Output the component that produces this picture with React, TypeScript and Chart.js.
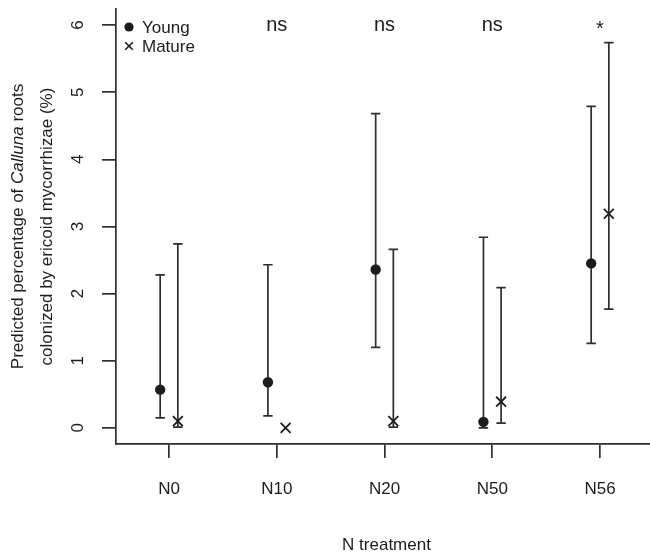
import React, { useEffect, useRef } from 'react';
import { Chart, registerables } from 'chart.js';

Chart.register(...registerables);

// ---- data ----
const categories = ['N0', 'N10', 'N20', 'N50', 'N56'];
const youngMean = [0.57, 0.68, 2.36, 0.09, 2.45];
const youngLower = [0.15, 0.18, 1.2, 0.0, 1.26];
const youngUpper = [2.28, 2.43, 4.68, 2.84, 4.79];
const matureMean = [0.1, 0.0, 0.1, 0.39, 3.19];
const matureLower: (number | null)[] = [0.01, null, 0.01, 0.07, 1.77];
const matureUpper: (number | null)[] = [2.74, null, 2.66, 2.09, 5.74];
const sigLabels = ['', 'ns', 'ns', 'ns', '*'];
const yTicks = [0, 1, 2, 3, 4, 5, 6];
const seriesNames = ['Young', 'Mature'];
const xTitle = 'N treatment';

const FONT = '"Liberation Sans", Arial, Helvetica, sans-serif';
const INK = '#1c1c1c';
const LINE = '#2e2e2e';
const OFFSET = 0.082;
const CAP = 4.7;

export default function App() {
  const ref = useRef<HTMLCanvasElement>(null);

  useEffect(() => {
    const canvas = ref.current;
    if (!canvas) return;

    const errorBars = {
      id: 'errorBars',
      beforeDatasetsDraw(chart: any) {
        const { ctx, scales } = chart;
        const x = scales.x;
        const y = scales.y;
        const series: [(number | null)[], (number | null)[], number][] = [
          [youngLower, youngUpper, -OFFSET],
          [matureLower, matureUpper, OFFSET],
        ];
        ctx.save();
        ctx.strokeStyle = LINE;
        ctx.lineWidth = 1.7;
        series.forEach(([lo, hi, off]) => {
          categories.forEach((_, i) => {
            const l = lo[i];
            const h = hi[i];
            if (l == null || h == null) return;
            const px = x.getPixelForValue(i + off);
            const y1 = y.getPixelForValue(l);
            const y2 = y.getPixelForValue(h);
            ctx.beginPath();
            ctx.moveTo(px, y1);
            ctx.lineTo(px, y2);
            ctx.moveTo(px - CAP, y1);
            ctx.lineTo(px + CAP, y1);
            ctx.moveTo(px - CAP, y2);
            ctx.lineTo(px + CAP, y2);
            ctx.stroke();
          });
        });
        ctx.restore();
      },
    };

    const annotations = {
      id: 'annotations',
      afterDraw(chart: any) {
        const { ctx, scales, chartArea } = chart;
        const x = scales.x;
        const y = scales.y;
        ctx.save();
        ctx.fillStyle = INK;

        // y tick labels (rotated)
        ctx.font = `17px ${FONT}`;
        ctx.textAlign = 'center';
        ctx.textBaseline = 'alphabetic';
        yTicks.forEach((v) => {
          const py = y.getPixelForValue(v);
          ctx.save();
          ctx.translate(83, py);
          ctx.rotate(-Math.PI / 2);
          ctx.fillText(String(v), 0, 0);
          ctx.restore();
        });

        // y axis title (two lines, rotated)
        const cy = (chartArea.top + chartArea.bottom) / 2;
        const line1: [string, boolean][] = [
          ['Predicted percentage of ', false],
          ['Calluna', true],
          [' roots', false],
        ];
        ctx.save();
        ctx.translate(23, cy);
        ctx.rotate(-Math.PI / 2);
        ctx.textAlign = 'left';
        let total = 0;
        line1.forEach(([t, it]) => {
          ctx.font = `${it ? 'italic ' : ''}17px ${FONT}`;
          total += ctx.measureText(t).width;
        });
        let cx = -total / 2;
        line1.forEach(([t, it]) => {
          ctx.font = `${it ? 'italic ' : ''}17px ${FONT}`;
          ctx.fillText(t, cx, 0);
          cx += ctx.measureText(t).width;
        });
        ctx.restore();

        ctx.save();
        ctx.translate(52, cy);
        ctx.rotate(-Math.PI / 2);
        ctx.font = `17px ${FONT}`;
        ctx.textAlign = 'center';
        ctx.fillText('colonized by ericoid mycorrhizae (%)', 0, 0);
        ctx.restore();

        // x axis title
        ctx.font = `17px ${FONT}`;
        ctx.textAlign = 'center';
        ctx.fillText(xTitle, x.getPixelForValue(2) + 2, 550);

        // significance labels
        ctx.font = `20px ${FONT}`;
        const p6 = y.getPixelForValue(6);
        sigLabels.forEach((s, i) => {
          if (!s) return;
          const px = x.getPixelForValue(i);
          ctx.fillText(s, px, s === '*' ? p6 + 10 : p6 + 6);
        });

        // legend
        const lx = chartArea.left + 13;
        const ly1 = chartArea.top + 18;
        const ly2 = chartArea.top + 37;
        ctx.beginPath();
        ctx.arc(lx, ly1, 4.6, 0, Math.PI * 2);
        ctx.fill();
        ctx.strokeStyle = INK;
        ctx.lineWidth = 1.6;
        const d = 3.8;
        ctx.beginPath();
        ctx.moveTo(lx - d, ly2 - d);
        ctx.lineTo(lx + d, ly2 + d);
        ctx.moveTo(lx - d, ly2 + d);
        ctx.lineTo(lx + d, ly2 - d);
        ctx.stroke();
        ctx.font = `17px ${FONT}`;
        ctx.textAlign = 'left';
        ctx.fillText(seriesNames[0], lx + 13, ly1 + 5.5);
        ctx.fillText(seriesNames[1], lx + 13, ly2 + 5.5);

        ctx.restore();
      },
    };

    const chart = new Chart(canvas, {
      type: 'scatter',
      data: {
        datasets: [
          {
            label: seriesNames[0],
            data: categories.map((_, i) => ({ x: i - OFFSET, y: youngMean[i] })),
            pointStyle: 'circle',
            pointRadius: 5.2,
            backgroundColor: INK,
            borderColor: INK,
            borderWidth: 0,
            showLine: false,
          },
          {
            label: seriesNames[1],
            data: categories.map((_, i) => ({ x: i + OFFSET, y: matureMean[i] })),
            pointStyle: 'crossRot',
            pointRadius: 7,
            backgroundColor: INK,
            borderColor: INK,
            borderWidth: 1.8,
            showLine: false,
          },
        ],
      },
      options: {
        animation: false,
        responsive: false,
        devicePixelRatio: 1,
        layout: { autoPadding: false, padding: { top: 9, left: 0, right: 0, bottom: 0 } },
        plugins: {
          legend: { display: false },
          tooltip: { enabled: false },
        },
        scales: {
          x: {
            type: 'linear',
            bounds: 'data',
            min: -0.492,
            max: 4.464,
            afterBuildTicks: (axis: any) => {
              axis.ticks = categories.map((_, i) => ({ value: i }));
            },
            afterFit: (s: any) => {
              s.height = 112;
              s.paddingLeft = 0;
              s.paddingRight = 0;
            },
            grid: {
              drawOnChartArea: false,
              drawTicks: true,
              tickLength: 14,
              color: LINE,
              lineWidth: 1.7,
            },
            border: { display: true, color: LINE, width: 1.7 },
            ticks: {
              color: INK,
              padding: 21,
              maxRotation: 0,
              minRotation: 0,
              autoSkip: false,
              font: { family: FONT, size: 17 },
              callback: (v: any) => categories[Math.round(Number(v))] ?? '',
            },
          },
          y: {
            type: 'linear',
            bounds: 'data',
            min: -0.24,
            max: 6.24,
            afterBuildTicks: (axis: any) => {
              axis.ticks = yTicks.map((v) => ({ value: v }));
            },
            afterFit: (s: any) => {
              s.width = 116;
              s.paddingTop = 0;
              s.paddingBottom = 0;
            },
            grid: {
              drawOnChartArea: false,
              drawTicks: true,
              tickLength: 14,
              color: LINE,
              lineWidth: 1.7,
            },
            border: { display: true, color: LINE, width: 1.7 },
            ticks: { display: false },
          },
        },
      },
      plugins: [errorBars, annotations],
    } as any);

    return () => chart.destroy();
  }, []);

  return (
    <div
      style={{
        position: 'absolute',
        left: 0,
        top: 0,
        width: 650,
        height: 556,
        background: '#ffffff',
      }}
    >
      <canvas ref={ref} width={650} height={556} style={{ display: 'block' }} />
    </div>
  );
}
